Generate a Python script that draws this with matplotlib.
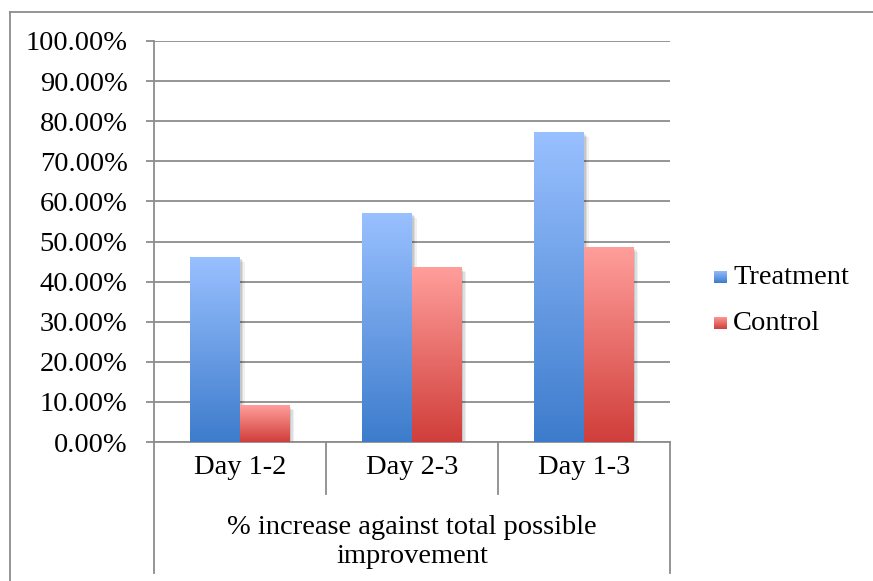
import matplotlib
matplotlib.use('Agg')
import matplotlib.pyplot as plt
import numpy as np
from matplotlib.colors import LinearSegmentedColormap
from matplotlib.patches import Rectangle
from matplotlib.lines import Line2D
import matplotlib.transforms as mtransforms

plt.rcParams['font.family'] = ['Liberation Serif', 'DejaVu Serif']

categories = ['Day 1-2', 'Day 2-3', 'Day 1-3']
treatment = [46.1, 57.1, 77.1]
control = [9.0, 43.4, 48.6]
series_names = ['Treatment', 'Control']
y_ticks = [0, 10, 20, 30, 40, 50, 60, 70, 80, 90, 100]
group_label = '% increase against total possible\nimprovement'

blue = LinearSegmentedColormap.from_list('b', ['#3d7ccc', '#99c0ff'])
red = LinearSegmentedColormap.from_list('r', ['#d03e3a', '#ff9e9b'])
grid_c = '#8c8c8c'
fs = 20.5

fig = plt.figure(figsize=(8.73, 5.81), dpi=100)
ax = fig.add_axes([154/873, 1-442/581, (670-154)/873, 401/581])

grad = np.linspace(0, 1, 256).reshape(-1, 1)
w = 0.29

def draw_bars(vals, off, cmap):
    for i, v in enumerate(vals):
        x0 = i + off - w / 2
        # soft drop shadow
        for k, a in enumerate([0.10, 0.08, 0.06]):
            sh = mtransforms.offset_copy(ax.transData, fig=fig, x=1.5 + k * 1.5, y=-1.5 - k * 1.5, units='dots')
            ax.add_patch(Rectangle((x0, 0), w, v, facecolor='black', alpha=a,
                                   edgecolor='none', transform=sh, zorder=2))
        ax.imshow(grad, extent=[x0, x0 + w, 0, v], origin='lower', aspect='auto',
                  cmap=cmap, zorder=3, interpolation='bilinear')

draw_bars(treatment, -0.145, blue)
draw_bars(control, 0.145, red)

ax.set_xlim(-0.5, 2.5)
ax.set_ylim(0, 100)
ax.set_aspect('auto')

ax.set_yticks(y_ticks)
ax.set_yticklabels(['%.2f%%' % t for t in y_ticks], fontsize=fs)
ax.tick_params(axis='y', length=6, width=1.3, color=grid_c, pad=13)
ax.set_xticks([])
ax.grid(axis='y', color=grid_c, linewidth=1.3, zorder=1)
ax.set_axisbelow(True)
for s in ['top', 'right']:
    ax.spines[s].set_visible(False)
for s in ['left', 'bottom']:
    ax.spines[s].set_color(grid_c)
    ax.spines[s].set_linewidth(1.3)

# multi-level category axis
tr = ax.get_xaxis_transform()
for x in [0.5, 1.5]:
    ax.plot([x, x], [0, -0.13], color=grid_c, lw=1.3, transform=tr, clip_on=False)
for x in [-0.5, 2.5]:
    ax.plot([x, x], [0, -0.327], color=grid_c, lw=1.3, transform=tr, clip_on=False)
for i, c in enumerate(categories):
    ax.text(i, -0.064, c, transform=tr, ha='center', va='center', fontsize=fs)
ax.text(1, -0.25, group_label, transform=tr, ha='center', va='center',
        fontsize=fs, linespacing=1.2)

# legend
for j, (name, cmap) in enumerate(zip(series_names, [blue, red])):
    yc = 1 - (277 + j * 46) / 581
    sw = fig.add_axes([714/873, yc - 6.5/581, 13/873, 13/581])
    sw.imshow(grad, origin='lower', aspect='auto', cmap=cmap, extent=[0, 1, 0, 1])
    sw.axis('off')
    fig.text(733/873, yc, name, fontsize=fs, va='center', ha='left')

# chart border
fig.add_artist(Line2D([10/873, 1], [1-12/581, 1-12/581], color=grid_c, lw=1.3))
fig.add_artist(Line2D([10/873, 10/873], [0, 1-12/581], color=grid_c, lw=1.3))

fig.savefig('out.png', dpi=100)
